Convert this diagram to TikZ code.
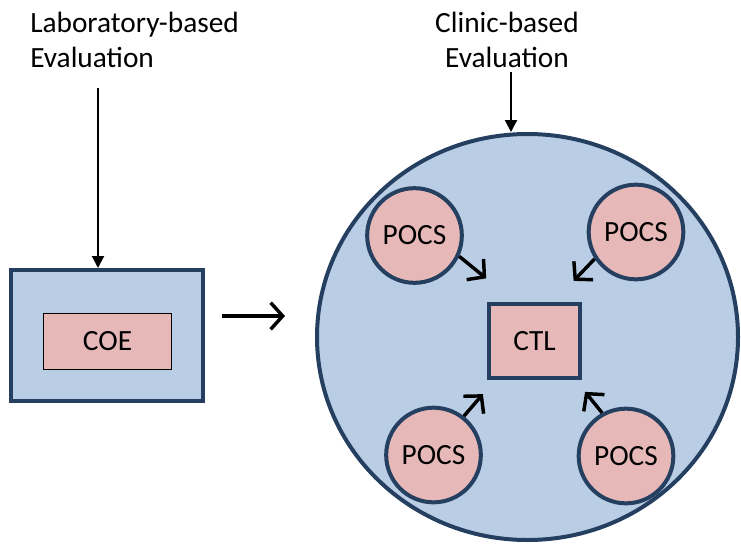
\documentclass[tikz,border=0pt]{standalone}
\usepackage{fontspec}
\setmainfont{Carlito}
\usepackage{tikz}
\usetikzlibrary{arrows.meta, shapes.geometric, calc}
\definecolor{navy}{HTML}{243F60}
\definecolor{paleblue}{HTML}{B9CDE5}
\definecolor{rose}{HTML}{E6B9B8}

\begin{document}
\begin{tikzpicture}[x=0.75pt, y=-0.75pt,
    font=\fontsize{22}{26.25}\selectfont,
    bx/.style={draw=navy, line width=3pt, fill=paleblue, inner sep=0},
    pc/.style={draw=navy, line width=3pt, fill=rose, circle, minimum size=71pt, inner sep=0},
    vt/.style={line width=1.5pt, -{Triangle[length=9pt, width=9pt]}},
    ar/.style={line width=2.6pt, -{Straight Barb[length=9pt, width=20pt]}}]
\useasboundingbox (0,0) rectangle (741,543);
% left side
\node[anchor=north west, align=left, inner sep=0] (labtxt) at (30,12) {Laboratory-based\\Evaluation};
\node[bx, minimum width=144pt, minimum height=98.25pt] (labbox) at (107,335.5) {};
\node[draw, line width=1.1pt, fill=rose, minimum width=96pt, minimum height=42pt, inner sep=0] (coe) at (107.5,341.5) {COE};
\coordinate (labtail) at (98,88);
\draw[vt] (labtail) -- (labtail |- labbox.north);
% right side
\node[anchor=north, align=center, inner sep=0] (clintxt) at (507,12) {Clinic-based\\Evaluation};
\node[bx, ellipse, minimum width=315.75pt, minimum height=304.5pt] (clinic) at (527.5,337) {};
\coordinate (clintail) at (511,72);
\draw[vt] (clintail) -- (clintail |- clinic.north);
\node[bx, fill=rose, minimum width=68.25pt, minimum height=55.5pt] (ctl) at (534.5,341) {CTL};
\node[pc] (p1) at (414.5,235.5) {POCS};
\node[pc] (p2) at (636,232) {POCS};
\node[pc] (p3) at (433.5,455) {POCS};
\node[pc] (p4) at (626,456) {POCS};
\draw[ar] (p1.-25) -- ++(27,22);
\draw[ar] (p2.-147) -- ++(-21,22);
\draw[ar] (p3.52) -- ++(19,-22);
\draw[ar] (p4.119) -- ++(-17,-21);
% between the two
\coordinate (hs) at (222,316);
\coordinate (he) at (285,316);
\draw[ar] (hs) -- (he);
\end{tikzpicture}
\end{document}
